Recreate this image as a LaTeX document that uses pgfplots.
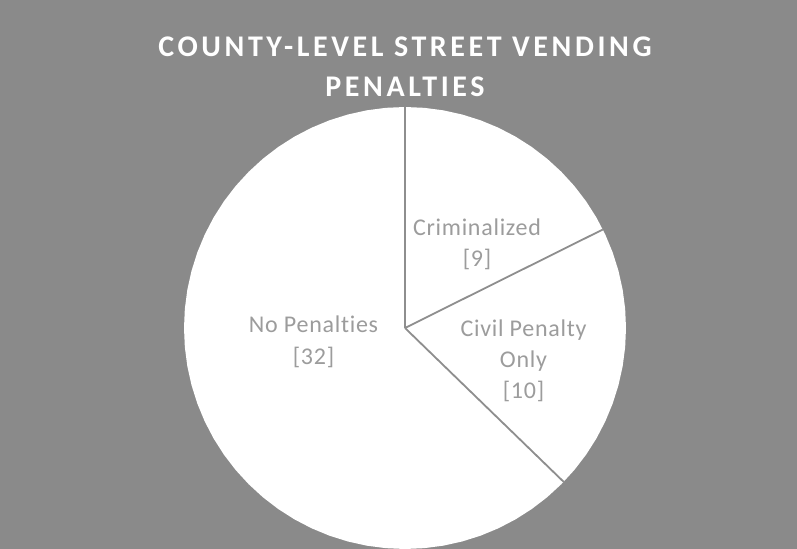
\documentclass[border=0pt]{standalone}
\usepackage{pgfplots}
\pgfplotsset{compat=1.18}
\usepackage{fontspec}
\setmainfont{Carlito}[Ligatures=NoCommon]
\newfontfamily\titlefont{Carlito}[LetterSpace=12,Ligatures=NoCommon]
\newfontfamily\labfont{Carlito}[LetterSpace=3,Ligatures=NoCommon]
\definecolor{bg}{HTML}{8A8A8A}
\definecolor{sep}{HTML}{8E8E8E}
\definecolor{lab}{HTML}{9C9C9C}
% Slice values: Criminalized 9, Civil Penalty Only 10, No Penalties 32 (total 51)
% Boundary angles (start at 90 deg, clockwise): 90, 26.471, -44.118
\begin{document}
\begin{tikzpicture}[x=1bp,y=1bp]
\path[use as bounding box, fill=bg] (0bp,0bp) rectangle (797bp,549bp);
\begin{axis}[at={(405bp,221bp)}, anchor=center, scale only axis,
  width=442bp, height=442bp, xmin=-1, xmax=1, ymin=-1, ymax=1, hide axis, clip=false]
\addplot[fill=white, draw=none, data cs=polar] coordinates {
(0,1)(5,1)(10,1)(15,1)(20,1)(25,1)(30,1)(35,1)(40,1)(45,1)(50,1)(55,1)
(60,1)(65,1)(70,1)(75,1)(80,1)(85,1)(90,1)(95,1)(100,1)(105,1)(110,1)(115,1)
(120,1)(125,1)(130,1)(135,1)(140,1)(145,1)(150,1)(155,1)(160,1)(165,1)(170,1)(175,1)
(180,1)(185,1)(190,1)(195,1)(200,1)(205,1)(210,1)(215,1)(220,1)(225,1)(230,1)(235,1)
(240,1)(245,1)(250,1)(255,1)(260,1)(265,1)(270,1)(275,1)(280,1)(285,1)(290,1)(295,1)
(300,1)(305,1)(310,1)(315,1)(320,1)(325,1)(330,1)(335,1)(340,1)(345,1)(350,1)(355,1)
} -- cycle;
\addplot[draw=sep, line width=1.8bp, mark=none, data cs=polar] coordinates {(90,0)(90,1)};
\addplot[draw=sep, line width=1.8bp, mark=none, data cs=polar] coordinates {(26.471,0)(26.471,1)};
\addplot[draw=sep, line width=1.8bp, mark=none, data cs=polar] coordinates {(-44.118,0)(-44.118,1)};
\end{axis}
\begin{scope}[every node/.style={anchor=base, inner sep=0pt}]
\node[white, font=\titlefont\bfseries\fontsize{30bp}{36bp}\selectfont] at (405bp,492bp) {COUNTY-LEVEL STREET VENDING};
\node[white, font=\titlefont\bfseries\fontsize{30bp}{36bp}\selectfont] at (405bp,452bp) {PENALTIES};
\node[lab, font=\labfont\fontsize{24bp}{28bp}\selectfont] at (313.5bp,216bp) {No Penalties};
\node[lab, font=\labfont\fontsize{24bp}{28bp}\selectfont] at (313.5bp,184bp) {[32]};
\node[lab, font=\labfont\fontsize{24bp}{28bp}\selectfont] at (477bp,313bp) {Criminalized};
\node[lab, font=\labfont\fontsize{24bp}{28bp}\selectfont] at (477bp,282bp) {[9]};
\node[lab, font=\labfont\fontsize{24bp}{28bp}\selectfont] at (523.5bp,212bp) {Civil Penalty};
\node[lab, font=\labfont\fontsize{24bp}{28bp}\selectfont] at (523.5bp,181bp) {Only};
\node[lab, font=\labfont\fontsize{24bp}{28bp}\selectfont] at (523.5bp,150bp) {[10]};
\end{scope}
\end{tikzpicture}
\end{document}
